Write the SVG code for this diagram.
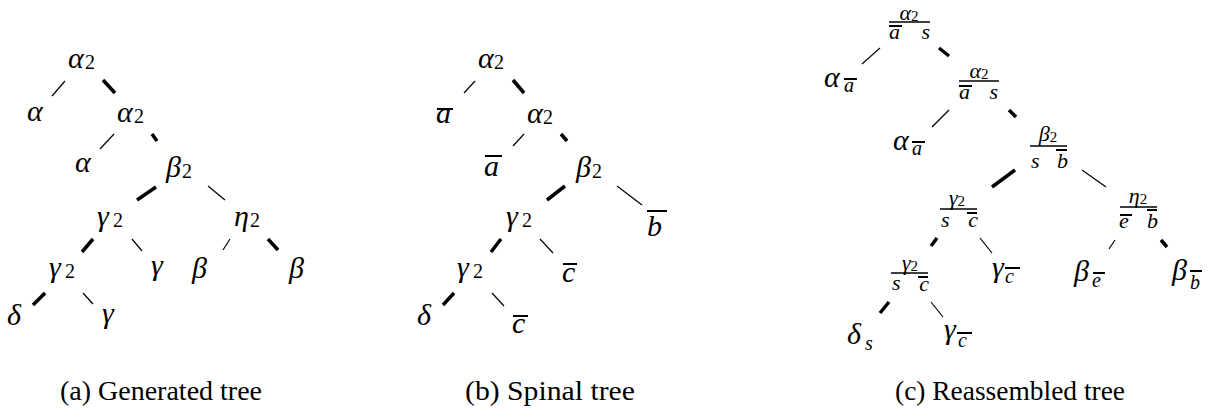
<svg xmlns="http://www.w3.org/2000/svg" width="1215" height="416" viewBox="0 0 1215 416">
<style>
text{font-family:'Liberation Serif',Tinos,'Times New Roman','Nimbus Roman',serif;fill:#000}
.g{font-style:italic;font-size:30px}
.d{font-style:normal;font-size:20px}
.s{font-style:italic;font-size:20px}
.ng{font-style:italic;font-size:22px}
.nd{font-style:normal;font-size:15px}
.dn{font-style:italic;font-size:22px}
.cap{font-size:27px}
.thin{stroke:#000;stroke-width:1.2;fill:none}
.thick{stroke:#000;stroke-width:3.5;fill:none}
.bar{stroke:#000;stroke-width:1.6;fill:none}
.ob{stroke:#000;stroke-width:2;fill:none}
</style>
<rect width="1215" height="416" fill="#fff"/>

<!-- Tree (a) -->
<g id="a-n1"><text class="g" x="68" y="68">α</text><text class="d" x="85" y="69">2</text></g>
<g id="a-n2"><text class="g" x="27" y="121">α</text></g>
<g id="a-n3"><text class="g" x="117" y="122">α</text><text class="d" x="134" y="123">2</text></g>
<g id="a-n4"><text class="g" x="75" y="172">α</text></g>
<g id="a-n5"><text class="g" x="166" y="177">β</text><text class="d" x="182" y="178">2</text></g>
<g id="a-n6"><text class="g" x="97" y="226">γ</text><text class="d" x="113" y="227">2</text></g>
<g id="a-n7"><text class="g" x="234" y="226">η</text><text class="d" x="250" y="227">2</text></g>
<g id="a-n8"><text class="g" x="49" y="277">γ</text><text class="d" x="65" y="278">2</text></g>
<g id="a-n9"><text class="g" x="151" y="275">γ</text></g>
<g id="a-n10"><text class="g" x="192" y="278">β</text></g>
<g id="a-n11"><text class="g" x="289" y="278">β</text></g>
<g id="a-n12"><text class="g" x="7" y="325">δ</text></g>
<g id="a-n13"><text class="g" x="102" y="323">γ</text></g>

<!-- Tree (b) -->
<g id="b-n1"><text class="g" x="478" y="68">α</text><text class="d" x="494" y="69">2</text></g>
<g id="b-n2"><text class="g" x="436" y="123">a</text><line class="ob" x1="437" y1="109" x2="453" y2="109"/></g>
<g id="b-n3"><text class="g" x="527" y="123">α</text><text class="d" x="543" y="124">2</text></g>
<g id="b-n4"><text class="g" x="484" y="176">a</text><line class="ob" x1="485" y1="156" x2="502" y2="156"/></g>
<g id="b-n5"><text class="g" x="576" y="177">β</text><text class="d" x="592" y="178">2</text></g>
<g id="b-n6"><text class="g" x="647" y="236">b</text><line class="ob" x1="647" y1="211" x2="667" y2="211"/></g>
<g id="b-n7"><text class="g" x="506" y="226">γ</text><text class="d" x="522" y="227">2</text></g>
<g id="b-n8"><text class="g" x="562" y="282">c</text><line class="ob" x1="563" y1="264" x2="577" y2="264"/></g>
<g id="b-n9"><text class="g" x="457" y="277">γ</text><text class="d" x="473" y="278">2</text></g>
<g id="b-n10"><text class="g" x="417" y="325">δ</text></g>
<g id="b-n11"><text class="g" x="512" y="333">c</text><line class="ob" x1="513" y1="316" x2="528" y2="316"/></g>

<!-- Tree (c) -->
<g id="c-n1">
<text x="909" y="20" text-anchor="middle"><tspan class="ng">α</tspan><tspan class="nd" dy="1">2</tspan></text>
<line class="bar" x1="889" y1="22" x2="930" y2="22"/>
<text class="dn" x="889" y="39">a</text><line class="ob" x1="889" y1="26" x2="902" y2="26"/>
<text class="dn" x="930" y="39" text-anchor="end">s</text>
</g>
<g id="c-n2"><text class="g" x="824" y="87">α</text><text class="s" x="844" y="92">a</text><line class="ob" x1="844" y1="79" x2="857" y2="79"/></g>
<g id="c-n3">
<text x="979" y="78" text-anchor="middle"><tspan class="ng">α</tspan><tspan class="nd" dy="1">2</tspan></text>
<line class="bar" x1="959" y1="81" x2="999" y2="81"/>
<text class="dn" x="959" y="99">a</text><line class="ob" x1="959" y1="86" x2="972" y2="86"/>
<text class="dn" x="998" y="99" text-anchor="end">s</text>
</g>
<g id="c-n4"><text class="g" x="893" y="150">α</text><text class="s" x="912" y="155">a</text><line class="ob" x1="912" y1="142" x2="925" y2="142"/></g>
<g id="c-n5">
<text x="1048" y="141" text-anchor="middle"><tspan class="ng">β</tspan><tspan class="nd" dy="1">2</tspan></text>
<line class="bar" x1="1030" y1="146" x2="1067" y2="146"/>
<text class="dn" x="1031" y="168">s</text>
<text class="dn" x="1068" y="168" text-anchor="end">b</text><line class="ob" x1="1056" y1="150" x2="1067" y2="150"/>
</g>
<g id="c-n6">
<text x="957" y="205" text-anchor="middle"><tspan class="ng">γ</tspan><tspan class="nd" dy="1">2</tspan></text>
<line class="bar" x1="940" y1="209" x2="977" y2="209"/>
<text class="dn" x="941" y="227">s</text>
<text class="dn" x="978" y="227" text-anchor="end">c</text><line class="ob" x1="967" y1="213" x2="977" y2="213"/>
</g>
<g id="c-n7">
<text x="1138" y="203" text-anchor="middle"><tspan class="ng">η</tspan><tspan class="nd" dy="1">2</tspan></text>
<line class="bar" x1="1120" y1="207" x2="1157" y2="207"/>
<text class="dn" x="1119" y="228">e</text><line class="ob" x1="1120" y1="215" x2="1132" y2="215"/>
<text class="dn" x="1158" y="228" text-anchor="end">b</text><line class="ob" x1="1147" y1="210" x2="1157" y2="210"/>
</g>
<g id="c-n8">
<text x="910" y="270" text-anchor="middle"><tspan class="ng">γ</tspan><tspan class="nd" dy="1">2</tspan></text>
<line class="bar" x1="891" y1="273" x2="928" y2="273"/>
<text class="dn" x="892" y="290">s</text>
<text class="dn" x="929" y="291" text-anchor="end">c</text><line class="ob" x1="918" y1="277" x2="928" y2="277"/>
</g>
<g id="c-n9"><text class="g" x="992" y="277">γ</text><text class="s" x="1005" y="283">c</text><line class="ob" x1="1005" y1="268" x2="1020" y2="268"/></g>
<g id="c-n10"><text class="g" x="1074" y="281">β</text><text class="s" x="1092" y="287">e</text><line class="ob" x1="1093" y1="273" x2="1105" y2="273"/></g>
<g id="c-n11"><text class="g" x="1172" y="280">β</text><text class="s" x="1190" y="289">b</text><line class="ob" x1="1190" y1="271" x2="1202" y2="271"/></g>
<g id="c-n12"><text class="g" x="847" y="344">δ</text><text class="s" x="865" y="350">s</text></g>
<g id="c-n13"><text class="g" x="944" y="339">γ</text><text class="s" x="958" y="347">c</text><line class="ob" x1="957" y1="333" x2="972" y2="333"/></g>

<!-- Connectors -->
<g id="connectors">
<line class="thin" x1="65" y1="81" x2="52" y2="96"/>
<line class="thick" x1="103" y1="80" x2="115" y2="93"/>
<line class="thin" x1="114" y1="134" x2="100" y2="149"/>
<line class="thick" x1="152" y1="134" x2="157" y2="141"/>
<line class="thick" x1="156" y1="187" x2="137" y2="200"/>
<line class="thin" x1="208" y1="186" x2="225" y2="200"/>
<line class="thick" x1="93" y1="239" x2="82" y2="252"/>
<line class="thin" x1="132" y1="239" x2="142" y2="251"/>
<line class="thin" x1="230" y1="239" x2="223" y2="250"/>
<line class="thick" x1="268" y1="239" x2="278" y2="250"/>
<line class="thick" x1="45" y1="293" x2="33" y2="305"/>
<line class="thin" x1="83" y1="293" x2="93" y2="304"/>

<line class="thin" x1="475" y1="81" x2="464" y2="93"/>
<line class="thick" x1="513" y1="80" x2="524" y2="93"/>
<line class="thin" x1="524" y1="134" x2="513" y2="146"/>
<line class="thick" x1="561" y1="134" x2="567" y2="141"/>
<line class="thick" x1="565" y1="186" x2="547" y2="200"/>
<line class="thin" x1="617" y1="186" x2="642" y2="205"/>
<line class="thick" x1="501" y1="239" x2="491" y2="252"/>
<line class="thin" x1="540" y1="239" x2="553" y2="253"/>
<line class="thick" x1="454" y1="293" x2="443" y2="305"/>
<line class="thin" x1="492" y1="293" x2="504" y2="306"/>

<line class="thin" x1="880" y1="48" x2="862" y2="64"/>
<line class="thick" x1="939" y1="48" x2="949" y2="56"/>
<line class="thin" x1="949" y1="110" x2="932" y2="127"/>
<line class="thick" x1="1009" y1="110" x2="1016" y2="117"/>
<line class="thick" x1="1015" y1="170" x2="992" y2="187"/>
<line class="thin" x1="1082" y1="170" x2="1106" y2="187"/>
<line class="thick" x1="937" y1="238" x2="931" y2="246"/>
<line class="thin" x1="980" y1="238" x2="992" y2="253"/>
<line class="thin" x1="1115" y1="240" x2="1109" y2="249"/>
<line class="thick" x1="1161" y1="240" x2="1167" y2="247"/>
<line class="thick" x1="889" y1="302" x2="880" y2="313"/>
<line class="thin" x1="931" y1="302" x2="943" y2="317"/>
</g>

<!-- Captions -->
<text class="cap" x="60" y="400" textLength="202" lengthAdjust="spacingAndGlyphs">(a) Generated tree</text>
<text class="cap" x="465" y="400" textLength="170" lengthAdjust="spacingAndGlyphs">(b) Spinal tree</text>
<text class="cap" x="895" y="400" textLength="230" lengthAdjust="spacingAndGlyphs">(c) Reassembled tree</text>
</svg>
